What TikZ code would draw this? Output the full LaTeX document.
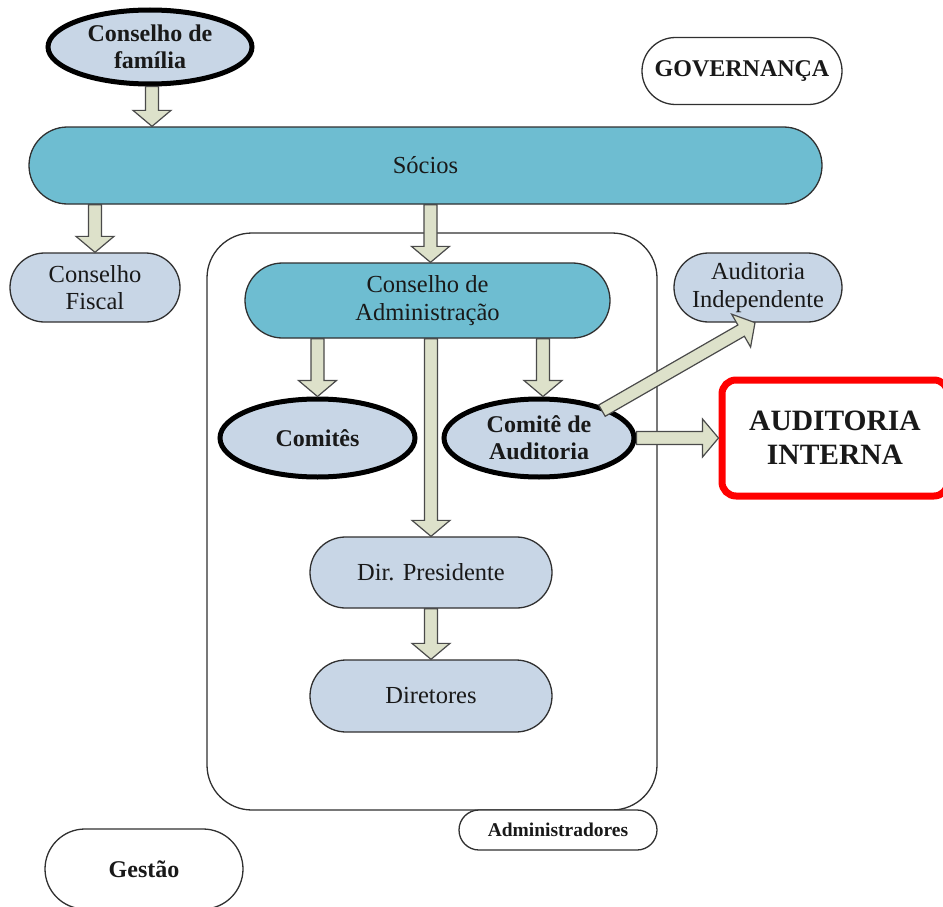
\documentclass[tikz,border=0pt]{standalone}
\usepackage{fontspec}
\setmainfont{Liberation Serif}
\usetikzlibrary{shapes.geometric,shapes.misc,calc}
\definecolor{lb}{HTML}{C8D6E6}
\definecolor{tealb}{HTML}{6EBDD1}
\definecolor{arf}{HTML}{DDE1CA}
\definecolor{arl}{HTML}{4A4A4A}
\definecolor{ol}{HTML}{303030}
\definecolor{redb}{HTML}{FF0000}
\tikzset{
  x=1pt, y=-1pt,
  base/.style={align=center, text=black!90, font=\fontsize{24.5}{27.5}\selectfont, inner sep=0pt},
  pill/.style={base, rounded rectangle, draw=ol, line width=1.3pt},
  lightpill/.style={pill, fill=lb},
  tealpill/.style={pill, fill=tealb},
  whitepill/.style={pill, fill=white, font=\fontsize{24}{27.5}\selectfont\bfseries},
  thickell/.style={base, ellipse, draw=black, line width=5pt, fill=lb, font=\fontsize{24}{27}\selectfont\bfseries},
  arrowst/.style={draw=arl, fill=arf, line width=1.2pt, line join=miter},
}
\newcommand\blockarrow[2]{%
  \draw[arrowst] let \p1=(#1), \p2=(#2), \n1={atan2(\y2-\y1,\x2-\x1)}, \n2={veclen(\x2-\x1,\y2-\y1)} in
  [shift={(\p1)}, rotate=\n1] (0,-6.5) -- (\n2-16,-6.5) -- (\n2-16,-19) -- (\n2,0) -- (\n2-16,19) -- (\n2-16,6.5) -- (0,6.5) -- cycle;}
\begin{document}
\begin{tikzpicture}
\useasboundingbox (0,0) rectangle (943,907);
\clip (0,0) rectangle (943,907);
% container
\node[draw=ol, line width=1.3pt, rounded corners=45pt, minimum width=450pt, minimum height=577pt, inner sep=0pt] (admbox) at (432,521.5) {};
% nodes
\node[thickell, minimum width=204pt, minimum height=74pt] (fam) at (150,47) {Conselho de\\família};
\node[whitepill, minimum width=200pt, minimum height=67pt] (gov) at (742,71) {GOVERNANÇA};
\node[tealpill, minimum width=793pt, minimum height=77pt] (soc) at (425.5,165.5) {Sócios};
\node[lightpill, minimum width=170pt, minimum height=69pt] (fis) at (95,287.5) {Conselho\\Fiscal};
\node[tealpill, minimum width=365pt, minimum height=75pt] (cda) at (427.5,300.5) {Conselho de\\Administração};
\node[thickell, minimum width=195pt, minimum height=78pt] (com) at (317.5,438) {Comitês};
\node[thickell, minimum width=190pt, minimum height=78pt] (caud) at (539,438) {Comitê de\\Auditoria};
\node[lightpill, minimum width=168pt, minimum height=69pt] (aind) at (758,287.5) {Auditoria\\Independente};
\node[base, draw=redb, line width=7pt, rounded corners=14pt, fill=white, minimum width=226pt, minimum height=116pt, font=\fontsize{29.5}{34}\selectfont\bfseries] (aint) at (835,438) {AUDITORIA\\INTERNA};
\node[lightpill, minimum width=242pt, minimum height=71pt] (dp) at (431,572.5) {Dir. Presidente};
\node[lightpill, minimum width=242pt, minimum height=72pt] (dir) at (431,696) {Diretores};
\node[whitepill, minimum width=198pt, minimum height=40pt, font=\fontsize{19.5}{22}\selectfont\bfseries] (adml) at (558,830) {Administradores};
\node[whitepill, minimum width=198pt, minimum height=80pt] (gest) at (144,869) {Gestão};
% arrow end points
\coordinate (a1s) at ([xshift=2pt]fam.south);
\coordinate (a1e) at (a1s |- soc.north);
\coordinate (a3n) at ([xshift=3pt]cda.north);
\coordinate (a3s) at (a3n |- soc.south);
\coordinate (a6n) at ([xshift=4pt]caud.north);
\coordinate (a6s) at (a6n |- cda.south);
\coordinate (a7s) at ([xshift=-6pt,yshift=-2pt]caud.north east);
\coordinate (a7e) at ([xshift=-3pt]aind.south);
% arrows
\blockarrow{a1s}{a1e}
\blockarrow{fis.north |- soc.south}{fis.north}
\blockarrow{a3s}{a3n}
\blockarrow{com.north |- cda.south}{com.north}
\blockarrow{dp.north |- cda.south}{dp.north}
\blockarrow{a6s}{a6n}
\blockarrow{a7s}{a7e}
\blockarrow{caud.east}{aint.west}
\blockarrow{dp.south}{dir.north}
\end{tikzpicture}
\end{document}
